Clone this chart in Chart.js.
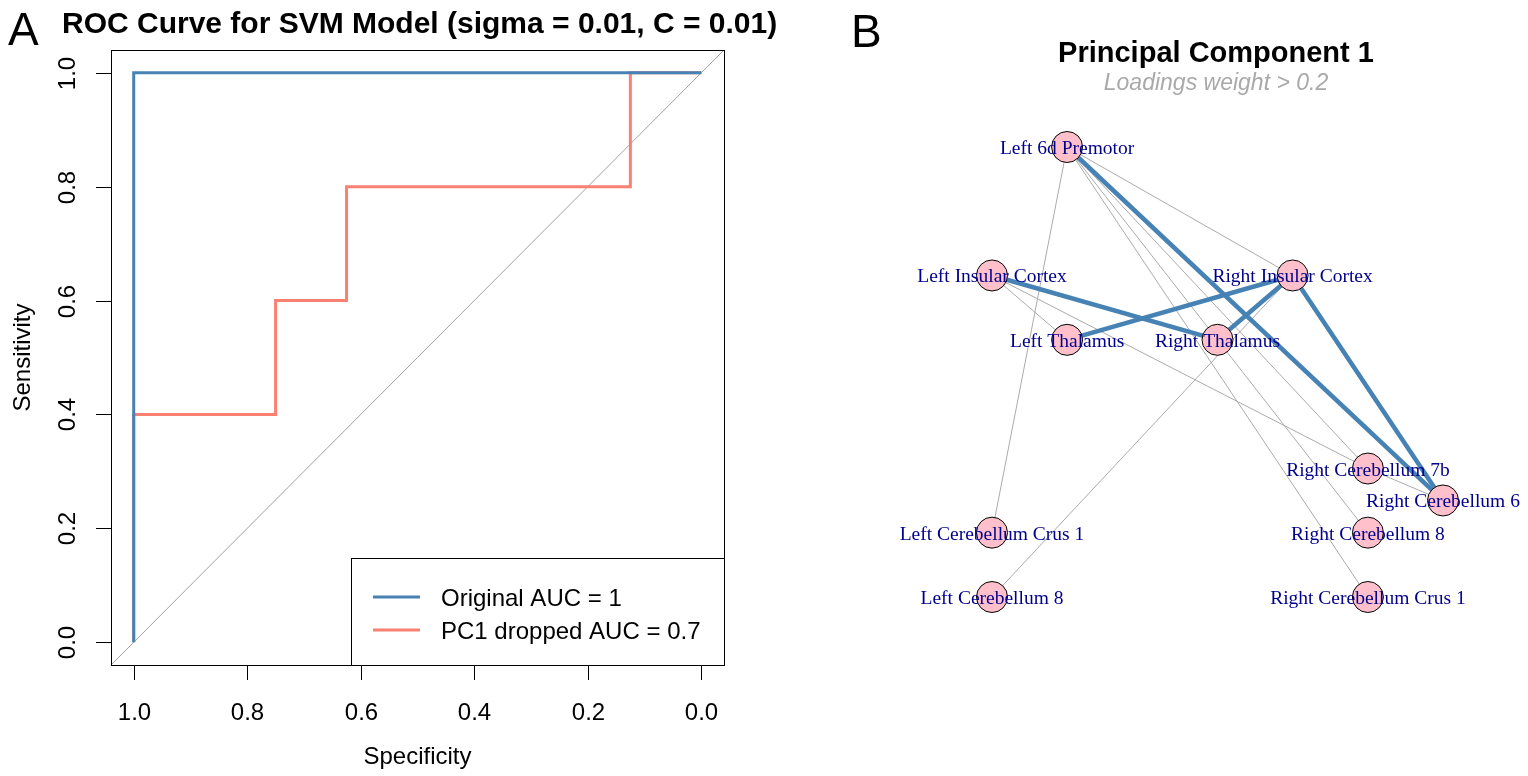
<!DOCTYPE html>
<html>
<head>
<meta charset="utf-8">
<script src="https://cdn.jsdelivr.net/npm/chart.js"></script>
<style>
  html, body { margin: 0; padding: 0; background: #fff; }
  #wrap { position: relative; width: 1528px; height: 776px; overflow: hidden; }
  canvas { position: absolute; top: 0; }
  #rocChart { left: 0; }
  #netChart { left: 780px; }
</style>
</head>
<body>
<div id="wrap">
  <canvas id="rocChart" width="780" height="776"></canvas>
  <canvas id="netChart" width="748" height="776"></canvas>
</div>
<script>
// ---- Panel A: ROC data ----
const specOriginal = [1, 1, 0];
const sensOriginal = [0, 1, 1];
const specPC1 = [1, 1, 0.75, 0.75, 0.625, 0.625, 0.125, 0.125, 0];
const sensPC1 = [0, 0.4, 0.4, 0.6, 0.6, 0.8, 0.8, 1, 1];
const rocLabels = ['Original AUC = 1', 'PC1 dropped AUC = 0.7'];
const xTickVals = [1.0, 0.8, 0.6, 0.4, 0.2, 0.0];
const yTickVals = [0.0, 0.2, 0.4, 0.6, 0.8, 1.0];
const axisMin = -0.04, axisMax = 1.04;

// ---- Panel B: network data ----
const nodeNames = ['Left 6d Premotor', 'Left Insular Cortex', 'Right Insular Cortex', 'Left Thalamus',
  'Right Thalamus', 'Right Cerebellum 7b', 'Right Cerebellum 6', 'Left Cerebellum Crus 1',
  'Right Cerebellum 8', 'Left Cerebellum 8', 'Right Cerebellum Crus 1'];
const nodeX = [-0.667, -1, 0.333, -0.667, 0, 0.667, 1, -1, 0.667, -1, 0.667];
const nodeY = [1, 0.429, 0.429, 0.143, 0.143, -0.429, -0.571, -0.714, -0.714, -1, -1];
const strongEdges = [
  ['Left 6d Premotor', 'Right Cerebellum 6'],
  ['Right Insular Cortex', 'Right Cerebellum 6'],
  ['Left Insular Cortex', 'Right Thalamus'],
  ['Left Thalamus', 'Right Insular Cortex'],
  ['Right Thalamus', 'Right Insular Cortex']
];
const weakEdges = [
  ['Left 6d Premotor', 'Right Insular Cortex'],
  ['Left 6d Premotor', 'Left Cerebellum Crus 1'],
  ['Left 6d Premotor', 'Right Cerebellum Crus 1'],
  ['Left 6d Premotor', 'Right Cerebellum 8'],
  ['Left 6d Premotor', 'Right Cerebellum 7b'],
  ['Left Insular Cortex', 'Left Thalamus'],
  ['Left Insular Cortex', 'Right Cerebellum 7b'],
  ['Right Cerebellum 7b', 'Right Cerebellum 6'],
  ['Right Insular Cortex', 'Left Cerebellum 8']
];

const SANS = '"Liberation Sans", Arial, sans-serif';
const SERIF = '"Liberation Serif", "Times New Roman", serif';
const STEEL = '#4682B4';
const SALMON = '#FA8072';

const pts = (xs, ys) => xs.map((x, i) => ({ x: x, y: ys[i] }));

// =========================
// PANEL A - ROC
// =========================
const rocDecor = {
  id: 'rocDecor',
  afterDraw(chart) {
    const { ctx, chartArea: a, scales: { x, y } } = chart;
    ctx.save();
    ctx.strokeStyle = '#000';
    ctx.lineWidth = 1;
    ctx.strokeRect(a.left + 0.5, a.top + 0.5, a.right - a.left, a.bottom - a.top);

    // ticks
    ctx.fillStyle = '#000';
    ctx.font = '24px ' + SANS;
    ctx.textAlign = 'center';
    ctx.textBaseline = 'alphabetic';
    xTickVals.forEach(v => {
      const px = Math.round(x.getPixelForValue(v)) + 0.5;
      ctx.beginPath();
      ctx.moveTo(px, a.bottom);
      ctx.lineTo(px, a.bottom + 15);
      ctx.stroke();
      ctx.fillText(v.toFixed(1), px, a.bottom + 55);
    });
    yTickVals.forEach(v => {
      const py = Math.round(y.getPixelForValue(v)) + 0.5;
      ctx.beginPath();
      ctx.moveTo(a.left - 15, py);
      ctx.lineTo(a.left, py);
      ctx.stroke();
      ctx.save();
      ctx.translate(a.left - 36, py);
      ctx.rotate(-Math.PI / 2);
      ctx.fillText(v.toFixed(1), 0, 0);
      ctx.restore();
    });

    // axis titles
    ctx.fillText('Specificity', (a.left + a.right) / 2, 764);
    ctx.save();
    ctx.translate(30, (a.top + a.bottom) / 2);
    ctx.rotate(-Math.PI / 2);
    ctx.fillText('Sensitivity', 0, 0);
    ctx.restore();

    // legend
    const lw = 373, lh = 107;
    const lx = a.right - lw, ly = a.bottom - lh;
    ctx.fillStyle = '#fff';
    ctx.fillRect(lx, ly, lw, lh);
    ctx.strokeRect(lx + 0.5, ly + 0.5, lw, lh);
    [STEEL, SALMON].forEach((c, i) => {
      const yy = ly + 39 + i * 33;
      ctx.strokeStyle = c;
      ctx.lineWidth = 3;
      ctx.beginPath();
      ctx.moveTo(lx + 22, yy);
      ctx.lineTo(lx + 69, yy);
      ctx.stroke();
      ctx.fillStyle = '#000';
      ctx.textAlign = 'left';
      ctx.fillText(rocLabels[i], lx + 90, yy + 9);
    });

    // titles
    ctx.fillStyle = '#000';
    ctx.textAlign = 'left';
    ctx.font = 'bold 30px ' + SANS;
    ctx.fillText('ROC Curve for SVM Model (sigma = 0.01, C = 0.01)', 62, 33);
    ctx.font = '46px ' + SANS;
    ctx.fillText('A', 8, 45);
    ctx.restore();
  }
};

new Chart(document.getElementById('rocChart'), {
  type: 'scatter',
  data: {
    datasets: [
      { label: rocLabels[0], data: pts(specOriginal, sensOriginal), showLine: true,
        borderColor: STEEL, borderWidth: 3, pointRadius: 0, order: 0 },
      { label: rocLabels[1], data: pts(specPC1, sensPC1), showLine: true,
        borderColor: SALMON, borderWidth: 3, pointRadius: 0, order: 1 },
      { label: 'chance', data: [{ x: axisMax, y: axisMin }, { x: axisMin, y: axisMax }], showLine: true,
        borderColor: '#A0A0A0', borderWidth: 1, pointRadius: 0, order: 2, clip: 0 }
    ]
  },
  options: {
    responsive: false,
    animation: false,
    events: [],
    layout: { padding: { left: 111, top: 50, right: 56, bottom: 111 } },
    scales: {
      x: { type: 'linear', min: axisMin, max: axisMax, reverse: true, display: false },
      y: { type: 'linear', min: axisMin, max: axisMax, display: false }
    },
    plugins: { legend: { display: false }, tooltip: { enabled: false } }
  },
  plugins: [rocDecor]
});

// =========================
// PANEL B - NETWORK
// =========================
const nodePts = pts(nodeX, nodeY);
const nodeAt = name => nodePts[nodeNames.indexOf(name)];

const edgeSets = [];
weakEdges.forEach(e => edgeSets.push({
  data: [nodeAt(e[0]), nodeAt(e[1])], showLine: true, borderColor: '#ABABAB',
  borderWidth: 1, pointRadius: 0, order: 2, clip: false
}));
strongEdges.forEach(e => edgeSets.push({
  data: [nodeAt(e[0]), nodeAt(e[1])], showLine: true, borderColor: STEEL,
  borderWidth: 4.5, pointRadius: 0, order: 1, clip: false
}));

const netDecor = {
  id: 'netDecor',
  afterDatasetsDraw(chart) {
    const { ctx } = chart;
    const meta = chart.getDatasetMeta(0);
    ctx.save();
    ctx.fillStyle = '#00008B';
    ctx.font = '19.5px ' + SERIF;
    ctx.textAlign = 'center';
    ctx.textBaseline = 'alphabetic';
    meta.data.forEach((p, i) => ctx.fillText(nodeNames[i], p.x, p.y + 7));

    ctx.fillStyle = '#000';
    ctx.font = 'bold 29px ' + SANS;
    ctx.fillText('Principal Component 1', 436, 62);
    ctx.fillStyle = '#A9A9A9';
    ctx.font = 'italic 23px ' + SANS;
    ctx.fillText('Loadings weight > 0.2', 436, 90);
    ctx.fillStyle = '#000';
    ctx.textAlign = 'left';
    ctx.font = '46px ' + SANS;
    ctx.fillText('B', 71, 47);
    ctx.restore();
  }
};

new Chart(document.getElementById('netChart'), {
  type: 'scatter',
  data: {
    datasets: [
      { label: 'nodes', data: nodePts, pointRadius: 15.5, pointBackgroundColor: '#FFC0CB',
        pointBorderColor: '#000', pointBorderWidth: 1, order: 0, clip: false }
    ].concat(edgeSets)
  },
  options: {
    responsive: false,
    animation: false,
    events: [],
    layout: { padding: { left: 212, top: 147, right: 85, bottom: 179 } },
    scales: {
      x: { type: 'linear', min: -1, max: 1, display: false },
      y: { type: 'linear', min: -1, max: 1, display: false }
    },
    plugins: { legend: { display: false }, tooltip: { enabled: false } }
  },
  plugins: [netDecor]
});
</script>
</body>
</html>
